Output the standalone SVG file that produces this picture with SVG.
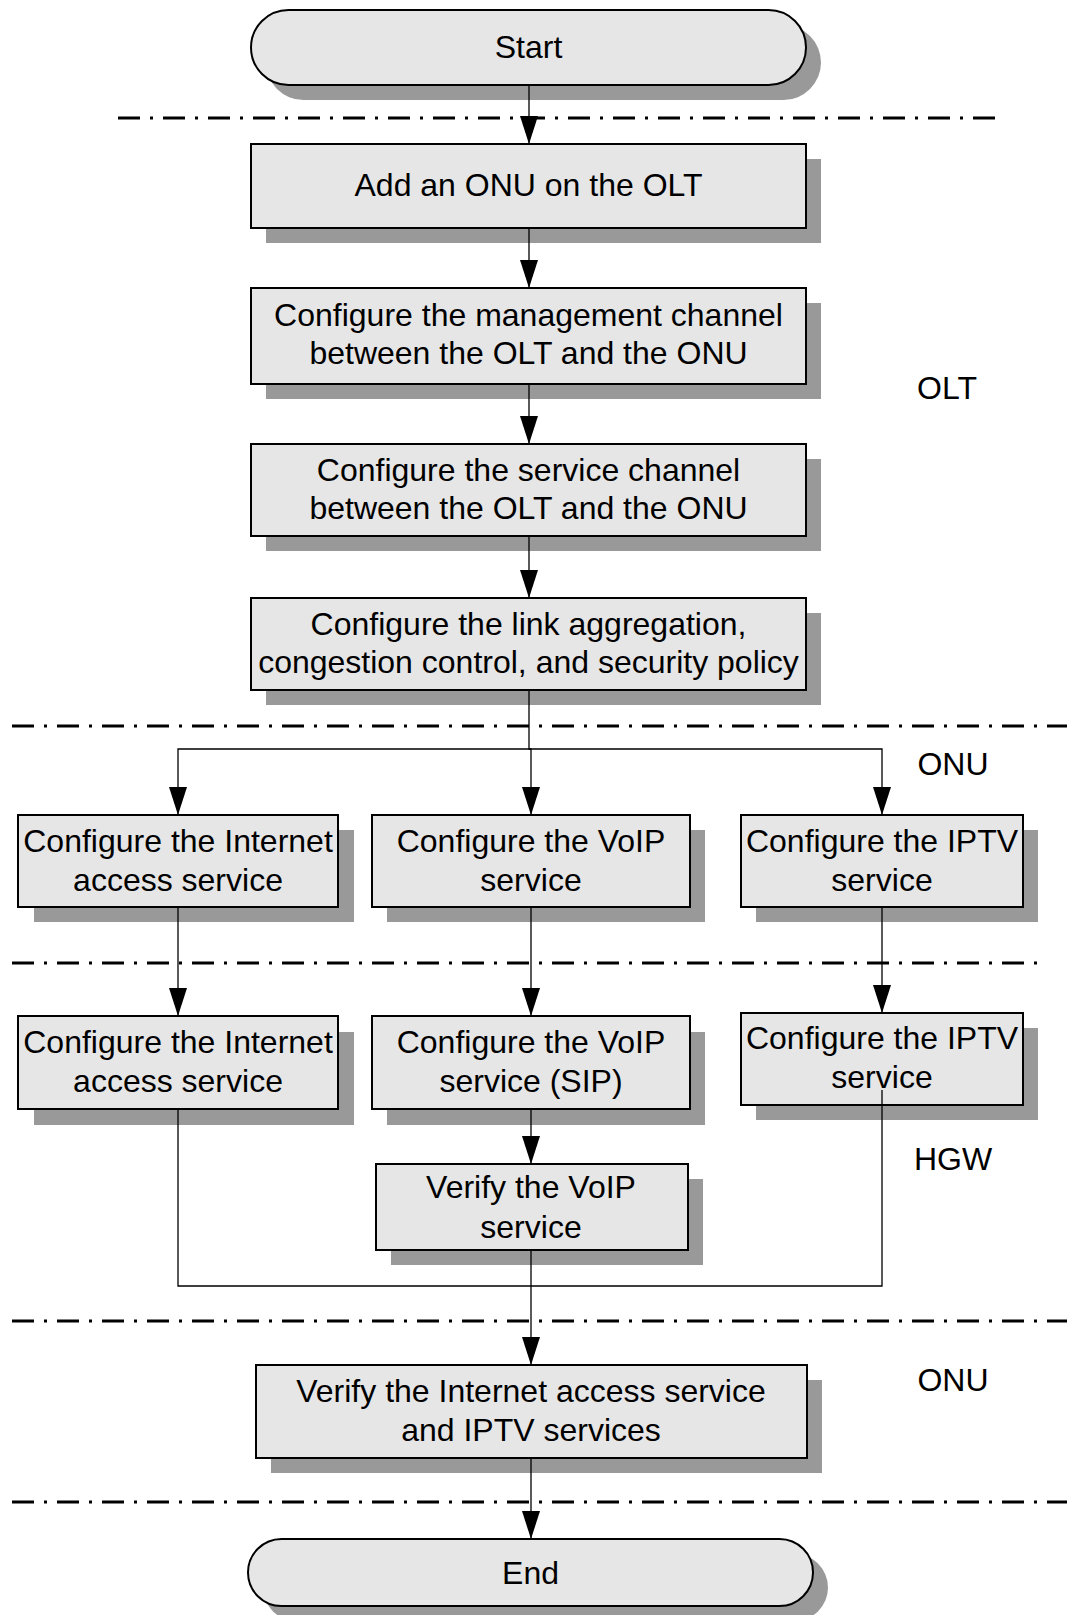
<svg xmlns="http://www.w3.org/2000/svg" width="1069" height="1615" viewBox="0 0 1069 1615">
<style>
.sh{fill:#999999;stroke:none}
.bx{fill:#e6e6e6;stroke:#000;stroke-width:2}
.t{font-family:"Liberation Sans",Arial,sans-serif;font-size:32px;fill:#000;text-anchor:middle}
.dl{stroke:#000;stroke-width:3;stroke-dasharray:22 10 3 10;fill:none}
.c{stroke:#000;stroke-width:1.3;fill:none}
</style>
<defs>
<marker id="arr" markerUnits="userSpaceOnUse" viewBox="0 0 28 18" refX="28" refY="9" markerWidth="28" markerHeight="18" orient="auto">
<path d="M0,0 L28,9 L0,18 z" fill="#000"/>
</marker>
</defs>
<rect width="1069" height="1615" fill="#fff"/>
<g id="separators">
<line class="dl" x1="118" y1="118" x2="999" y2="118"/>
<line class="dl" x1="12" y1="726" x2="1067" y2="726"/>
<line class="dl" x1="12" y1="963" x2="1045" y2="963"/>
<line class="dl" x1="12" y1="1321" x2="1067" y2="1321"/>
<line class="dl" x1="12" y1="1502" x2="1067" y2="1502"/>
</g>
<g id="lane-labels">
<text class="t" x="947" y="399">OLT</text>
<text class="t" x="953" y="775">ONU</text>
<text class="t" x="953" y="1170">HGW</text>
<text class="t" x="953" y="1391">ONU</text>
</g>
<g id="start">
<rect class="sh" x="266" y="25" width="555" height="75" rx="37.5"/>
<rect class="bx" x="251" y="10" width="555" height="75" rx="37.5"/>
<text class="t" x="528.5" y="58">Start</text>
</g>
<g id="add-onu">
<rect class="sh" x="266" y="159" width="555" height="84"/>
<rect class="bx" x="251" y="144" width="555" height="84"/>
<text class="t" x="528.5" y="196">Add an ONU on the OLT</text>
</g>
<g id="mgmt-channel">
<rect class="sh" x="266" y="303" width="555" height="96"/>
<rect class="bx" x="251" y="288" width="555" height="96"/>
<text class="t" x="528.5" y="326">Configure the management channel</text>
<text class="t" x="528.5" y="364">between the OLT and the ONU</text>
</g>
<g id="svc-channel">
<rect class="sh" x="266" y="459" width="555" height="92"/>
<rect class="bx" x="251" y="444" width="555" height="92"/>
<text class="t" x="528.5" y="481">Configure the service channel</text>
<text class="t" x="528.5" y="519">between the OLT and the ONU</text>
</g>
<g id="link-agg">
<rect class="sh" x="266" y="613" width="555" height="92"/>
<rect class="bx" x="251" y="598" width="555" height="92"/>
<text class="t" x="528.5" y="635">Configure the link aggregation,</text>
<text class="t" x="528.5" y="673">congestion control, and security policy</text>
</g>
<g id="onu-internet">
<rect class="sh" x="34" y="830" width="320" height="92"/>
<rect class="bx" x="18" y="815" width="320" height="92"/>
<text class="t" x="178" y="852">Configure the Internet</text>
<text class="t" x="178" y="891">access service</text>
</g>
<g id="onu-voip">
<rect class="sh" x="387" y="830" width="318" height="92"/>
<rect class="bx" x="372" y="815" width="318" height="92"/>
<text class="t" x="531" y="852">Configure the VoIP</text>
<text class="t" x="531" y="891">service</text>
</g>
<g id="onu-iptv">
<rect class="sh" x="756" y="830" width="282" height="92"/>
<rect class="bx" x="741" y="815" width="282" height="92"/>
<text class="t" x="882" y="852">Configure the IPTV</text>
<text class="t" x="882" y="891">service</text>
</g>
<g id="hgw-internet">
<rect class="sh" x="34" y="1032" width="320" height="93"/>
<rect class="bx" x="18" y="1016" width="320" height="93"/>
<text class="t" x="178" y="1053">Configure the Internet</text>
<text class="t" x="178" y="1092">access service</text>
</g>
<g id="hgw-voip">
<rect class="sh" x="387" y="1032" width="318" height="93"/>
<rect class="bx" x="372" y="1016" width="318" height="93"/>
<text class="t" x="531" y="1053">Configure the VoIP</text>
<text class="t" x="531" y="1092">service (SIP)</text>
</g>
<g id="hgw-iptv">
<rect class="sh" x="756" y="1028" width="282" height="92"/>
<rect class="bx" x="741" y="1013" width="282" height="92"/>
<text class="t" x="882" y="1049">Configure the IPTV</text>
<text class="t" x="882" y="1088">service</text>
</g>
<g id="verify-voip">
<rect class="sh" x="391" y="1179" width="312" height="86"/>
<rect class="bx" x="376" y="1164" width="312" height="86"/>
<text class="t" x="531" y="1198">Verify the VoIP</text>
<text class="t" x="531" y="1238">service</text>
</g>
<g id="verify-internet">
<rect class="sh" x="271" y="1380" width="551" height="93"/>
<rect class="bx" x="256" y="1365" width="551" height="93"/>
<text class="t" x="531" y="1402">Verify the Internet access service</text>
<text class="t" x="531" y="1441">and IPTV services</text>
</g>
<g id="end">
<rect class="sh" x="263" y="1554" width="565" height="67" rx="33.5"/>
<rect class="bx" x="248" y="1539" width="565" height="67" rx="33.5"/>
<text class="t" x="530.5" y="1584">End</text>
</g>
<g id="connectors">
<path class="c" d="M529,85 V144" marker-end="url(#arr)"/>
<path class="c" d="M529,228 V288" marker-end="url(#arr)"/>
<path class="c" d="M529,384 V444" marker-end="url(#arr)"/>
<path class="c" d="M529,536 V598" marker-end="url(#arr)"/>
<path class="c" d="M529,690 V749 H531 V815" marker-end="url(#arr)"/>
<path class="c" d="M529,749 H178 V815" marker-end="url(#arr)"/>
<path class="c" d="M529,749 H882 V815" marker-end="url(#arr)"/>
<path class="c" d="M178,907 V1016" marker-end="url(#arr)"/>
<path class="c" d="M531,907 V1016" marker-end="url(#arr)"/>
<path class="c" d="M882,907 V1013" marker-end="url(#arr)"/>
<path class="c" d="M531,1109 V1164" marker-end="url(#arr)"/>
<path class="c" d="M178,1109 V1286 H882 V1090"/>
<path class="c" d="M531,1250 V1365" marker-end="url(#arr)"/>
<path class="c" d="M531,1458 V1539" marker-end="url(#arr)"/>
</g>
</svg>
